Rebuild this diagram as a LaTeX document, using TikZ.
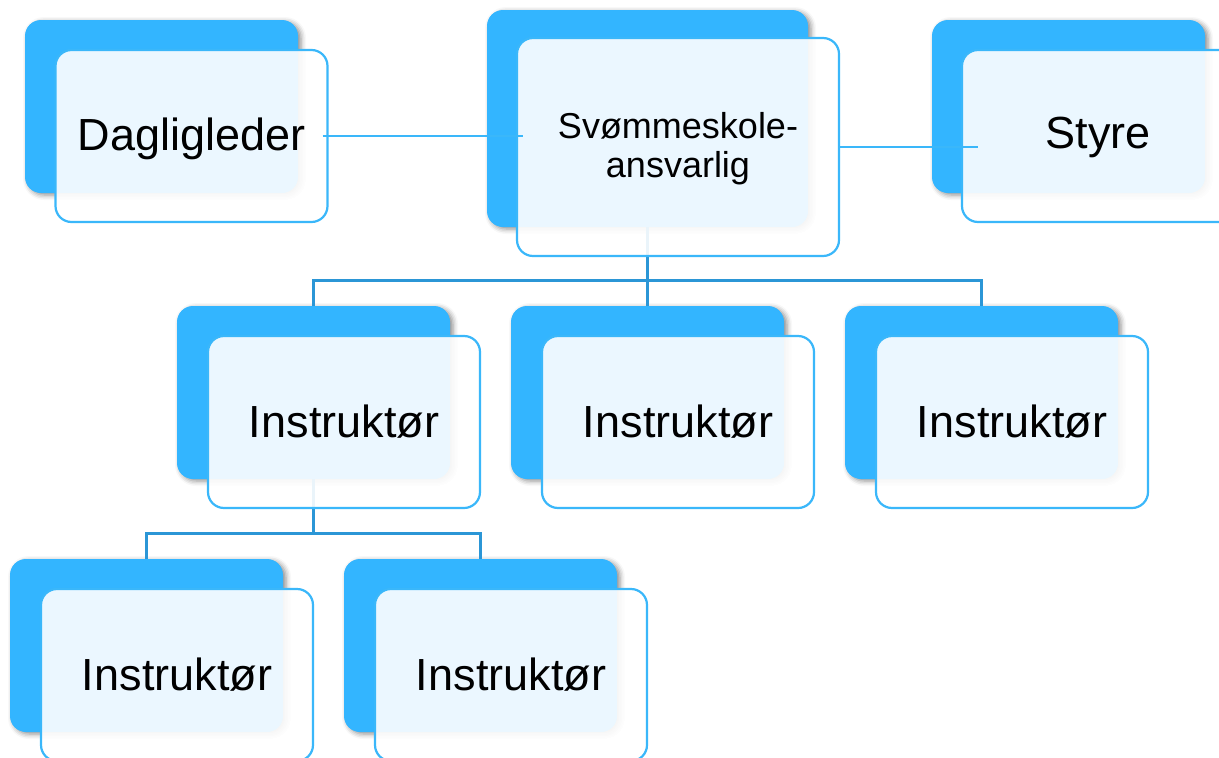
\documentclass[tikz,border=0pt]{standalone}
\usepackage{fontspec}
\setmainfont{Liberation Sans}
\usetikzlibrary{shadows.blur}
\definecolor{bblue}{HTML}{33B5FF}
\definecolor{lblue}{HTML}{3AB7FA}
\definecolor{tblue}{HTML}{2B96D6}
\tikzset{
 backbox/.style={rectangle, rounded corners=16pt, fill=bblue, minimum width=273pt, minimum height=173pt, inner sep=0pt, outer sep=0pt,
   blur shadow={shadow xshift=3pt, shadow yshift=-2pt, shadow blur radius=5pt, shadow opacity=45}},
 frontbox/.style={rectangle, rounded corners=16pt, draw=lblue, line width=2.2pt, fill=white, fill opacity=0.9, text opacity=1,
   minimum width=272pt, minimum height=172pt, inner sep=0pt, outer sep=0pt, font=\fontsize{45}{54}\selectfont},
 bigback/.style={minimum width=321pt, minimum height=217pt},
 bigfront/.style={minimum width=322pt, minimum height=218pt},
 txt/.style={inner sep=0pt, font=\fontsize{45}{54}\selectfont},
 conn/.style={draw=lblue, line width=2pt},
 tree/.style={draw=tblue, line width=2.4pt},
}
\begin{document}
\begin{tikzpicture}[x=1pt,y=-1pt]
\useasboundingbox (0,0) rectangle (1219,758);
\clip (0,0) rectangle (1219,758);
% back boxes
\node[backbox] (dB) at (161.5,106.5) {};
\node[backbox,bigback] (cB) at (647.5,118.5) {};
\node[backbox] (sB) at (1068.5,106.5) {};
\node[backbox] (i1B) at (313.5,392.5) {};
\node[backbox] (i2B) at (647.5,392.5) {};
\node[backbox] (i3B) at (981.5,392.5) {};
\node[backbox] (i4B) at (146.5,645.5) {};
\node[backbox] (i5B) at (480.5,645.5) {};
% tree connectors
\coordinate (j1) at (647.5,280.5);
\coordinate (j2) at (313.5,533.5);
\draw[tree] (cB.south) -- (i2B.north);
\draw[tree] (i1B.north) |- (j1) -| (i3B.north);
\draw[tree] (i1B.south) -- (j2);
\draw[tree] (i4B.north) |- (j2) -| (i5B.north);
% front boxes
\node[frontbox] (dF) at (191.5,136) {};
\node[frontbox,bigfront] (cF) at (678,147) {};
\node[frontbox] (sF) at (1098,136) {};
\node[frontbox] (i1F) at (344,422) {};
\node[frontbox] (i2F) at (678,422) {};
\node[frontbox] (i3F) at (1012,422) {};
\node[frontbox] (i4F) at (177,675) {};
\node[frontbox] (i5F) at (511,675) {};
% texts
\node[txt, anchor=base] (dT) at ([yshift=-14pt]dF.center) {Dagligleder};
\node[txt, anchor=base, align=center, font=\fontsize{36}{39}\selectfont] (cT) at ([yshift=-30pt]cF.center) {Svømmeskole-\\ansvarlig};
\node[txt, anchor=base] (sT) at ([yshift=-12pt]sF.center) {Styre};
\node[txt, anchor=base] (i1T) at ([yshift=-15pt]i1F.center) {Instruktør};
\node[txt, anchor=base] (i2T) at ([yshift=-15pt]i2F.center) {Instruktør};
\node[txt, anchor=base] (i3T) at ([yshift=-15pt]i3F.center) {Instruktør};
\node[txt, anchor=base] (i4T) at ([yshift=-15pt]i4F.center) {Instruktør};
\node[txt, anchor=base] (i5T) at ([yshift=-15pt]i5F.center) {Instruktør};
% side connectors
\draw[conn] ([xshift=-5pt]dF.east) -- ([xshift=6pt]cF.west |- dF.east);
\draw[conn] ([xshift=-1pt]cF.east) -- ([xshift=16pt]sF.west |- cF.east);
\end{tikzpicture}
\end{document}
